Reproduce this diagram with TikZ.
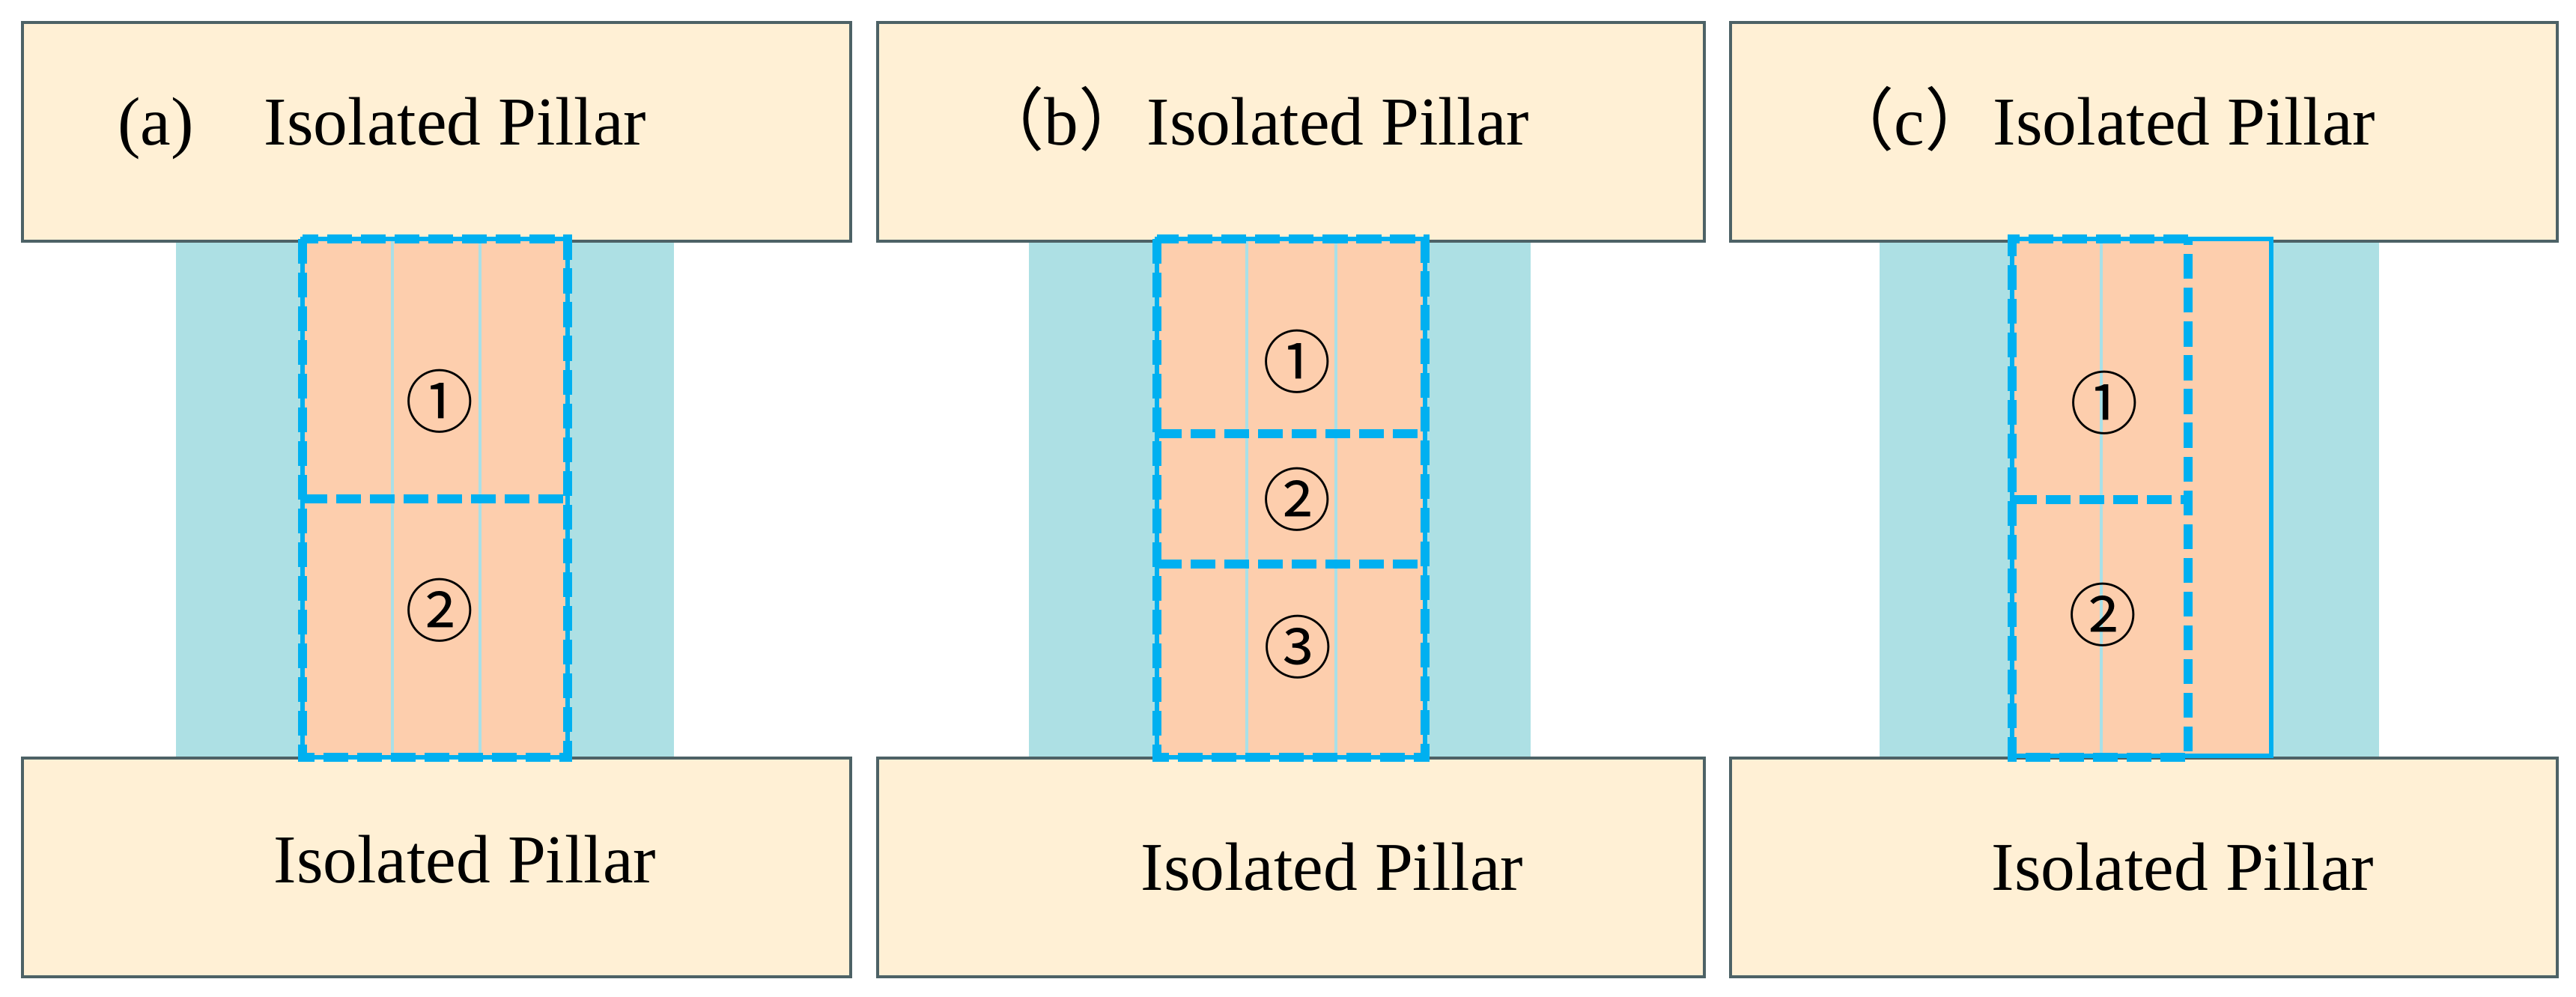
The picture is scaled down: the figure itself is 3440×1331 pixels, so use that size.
\documentclass[tikz,border=0pt]{standalone}
\usepackage{fontspec}
\setmainfont{Liberation Serif}
\newfontfamily\cjk{Noto Sans CJK SC}
\definecolor{cream}{HTML}{FFF0D5}
\definecolor{boxline}{HTML}{4D6266}
\definecolor{powder}{HTML}{ADE0E4}
\definecolor{pinkc}{HTML}{FDCEAD}
\definecolor{blueline}{HTML}{00B0F0}
\definecolor{thincyan}{HTML}{A8E0E8}
\tikzset{
  pillar/.style={fill=cream, draw=boxline, line width=1pt},
  zone/.style={fill=powder},
  coal/.style={fill=pinkc, draw=blueline, line width=1.6pt},
  split/.style={draw=thincyan, line width=0.9pt},
  dashbox/.style={draw=blueline, line width=3.4pt, dash pattern=on 9.4pt off 3.4pt},
  lbl/.style={font=\fontsize{26pt}{30pt}\selectfont, inner sep=0pt},
  num/.style={font=\cjk\fontsize{26pt}{30pt}\selectfont, inner sep=0pt}
}
\begin{document}
\begin{tikzpicture}[x=0.01cm,y=-0.01cm]
\useasboundingbox[fill=white] (0,0) rectangle (3440,1331);
% cyan zones
\path[zone] (235,322) rectangle (900,1012);
\path[zone] (1374,322) rectangle (2044,1012);
\path[zone] (2510,322) rectangle (3177,1012);
% pillars
\path[pillar] (30,30) rectangle (1136,322);
\path[pillar] (30,1012) rectangle (1136,1304);
\path[pillar] (1172,30) rectangle (2276,322);
\path[pillar] (1172,1012) rectangle (2276,1304);
\path[pillar] (2311,30) rectangle (3415,322);
\path[pillar] (2311,1012) rectangle (3415,1304);
% coal bodies
\path[coal] (404,319) rectangle (758,1011);
\path[coal] (1545,319) rectangle (1903,1011);
\path[coal] (2687,319) rectangle (3033,1009);
% thin splits
\draw[split] (524,322) -- (524,1009);
\draw[split] (641,322) -- (641,1009);
\draw[split] (1665,322) -- (1665,1009);
\draw[split] (1784,322) -- (1784,1009);
\draw[split] (2806,322) -- (2806,1007);
% dashed regions
\draw[dashbox] (404,319) rectangle (758,1011);
\draw[dashbox] (404,666) -- (758,666);
\draw[dashbox] (1545,319) rectangle (1903,1011);
\draw[dashbox] (1545,579) -- (1903,579);
\draw[dashbox] (1545,753) -- (1903,753);
\draw[dashbox] (2922,319) -- (2687,319) -- (2687,1011) -- (2922,1011) -- cycle;
\draw[dashbox] (2687,667) -- (2922,667);
% labels
\node[lbl, anchor=base east] (ta) at (864,194) {(a)\hspace{0.94cm}Isolated Pillar};
\node[lbl, anchor=base west] (ba) at (365,1178) {Isolated Pillar};
\node[lbl, anchor=base east] (tb) at (2043,194) {{\cjk （}b{\cjk ）}Isolated Pillar};
\node[lbl, anchor=base west] (bb) at (1523,1188) {Isolated Pillar};
\node[lbl, anchor=base east] (tc) at (3173,194) {{\cjk （}c{\cjk ）}Isolated Pillar};
\node[lbl, anchor=base west] (bc) at (2659,1188) {Isolated Pillar};
% numbers
\node[num] (a1) at (587,536) {①};
\node[num] (a2) at (587,815) {②};
\node[num] (b1) at (1732,483) {①};
\node[num] (b2) at (1732,667) {②};
\node[num] (b3) at (1733,864) {③};
\node[num] (c1) at (2810,538) {①};
\node[num] (c2) at (2808,821) {②};
\end{tikzpicture}
\end{document}
